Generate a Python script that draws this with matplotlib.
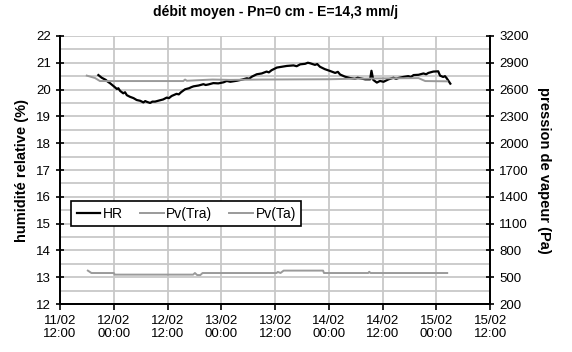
import numpy as np
import matplotlib
matplotlib.use("Agg")
import matplotlib.pyplot as plt
from matplotlib.ticker import MultipleLocator

plt.rcParams["font.family"] = ["Liberation Sans", "DejaVu Sans"]

# hours since 11/02 12:00
tick_labels = ["11/02\n12:00", "12/02\n00:00", "12/02\n12:00", "13/02\n00:00",
               "13/02\n12:00", "14/02\n00:00", "14/02\n12:00", "15/02\n00:00",
               "15/02\n12:00"]

hr_t = [8.55, 9.0, 9.3, 10.2, 10.6, 11.2, 12.0, 12.7, 13.0, 13.4, 14.1, 14.5, 14.9,
        15.6, 16.4, 16.8, 17.1, 17.9, 18.6, 19.0, 19.4, 20.1, 20.6, 21.2, 22.3,
        23.0, 23.8, 24.3, 24.9, 26.0, 26.5, 27.0, 27.9, 28.8, 29.3, 29.8, 30.9,
        32.0, 32.5, 33.1, 34.2, 35.3, 36.5, 37.2, 38.0, 39.5, 40.6, 41.7, 42.2,
        42.8, 43.9, 45.0, 46.1, 46.6, 47.2, 48.4, 49.5, 50.6, 52.1, 52.8, 53.6,
        54.7, 55.3, 55.8, 56.9, 57.4, 58.0, 59.1, 60.3, 61.4, 62.0, 62.5, 63.6,
        64.7, 65.8, 66.4, 67.0, 68.1, 69.2, 69.5, 69.9, 70.3, 70.7, 71.4, 72.2,
        73.3, 74.4, 75.0, 75.5, 76.6, 77.7, 78.3, 78.9, 80.0, 81.1, 81.7, 82.2,
        83.3, 84.4, 84.8, 85.5, 85.9, 86.3, 87.1]
hr = [20.54, 20.48, 20.44, 20.36, 20.30, 20.23, 20.12, 20.02, 20.05, 19.95, 19.86,
      19.90, 19.79, 19.73, 19.68, 19.64, 19.61, 19.58, 19.52, 19.57, 19.54, 19.50,
      19.55, 19.55, 19.60, 19.63, 19.70, 19.68, 19.76, 19.84, 19.82, 19.90, 20.01,
      20.05, 20.09, 20.12, 20.15, 20.20, 20.17, 20.19, 20.24, 20.23, 20.27, 20.32,
      20.29, 20.33, 20.37, 20.42, 20.40, 20.48, 20.57, 20.60, 20.67, 20.64, 20.72,
      20.82, 20.85, 20.88, 20.90, 20.87, 20.94, 20.96, 21.00, 20.98, 20.92, 20.95,
      20.85, 20.76, 20.69, 20.62, 20.66, 20.56, 20.48, 20.43, 20.40, 20.44, 20.42,
      20.38, 20.38, 20.70, 20.36, 20.31, 20.26, 20.32, 20.29, 20.38, 20.44, 20.40,
      20.43, 20.47, 20.50, 20.47, 20.54, 20.55, 20.60, 20.57, 20.62, 20.67, 20.68,
      20.52, 20.47, 20.50, 20.42, 20.22]

pv_tra_t = [5.96, 7.8, 8.9, 27.5, 27.9, 28.3, 31.0, 34.0, 38.0, 45.0, 60.0, 64.5,
            70.5, 75.0, 80.0, 81.5, 86.4]
pv_tra = [2756, 2729, 2695, 2695, 2712, 2698, 2705, 2712, 2708, 2712, 2715, 2720,
          2724, 2726, 2728, 2695, 2692]

pv_ta_t = [6.2, 7.0, 12.0, 12.2, 29.7, 30.1, 30.6, 31.3, 31.8, 48.3, 48.6, 49.2,
           49.9, 58.7, 58.9, 68.8, 69.0, 69.3, 86.4]
pv_ta = [575, 548, 548, 530, 530, 548, 525, 525, 548, 548, 560, 548, 575, 575, 548,
         548, 562, 548, 548]

fig = plt.figure(figsize=(5.72, 3.52), dpi=100)
ax = fig.add_axes([0.105, 0.136, 0.752, 0.762])
ax2 = ax.twinx()

ax.set_xlim(0, 96)
ax.set_ylim(12, 22)
ax2.set_ylim(200, 3200)
ax.set_xticks(np.arange(0, 97, 12))
ax.set_xticklabels(tick_labels)
ax.yaxis.set_major_locator(MultipleLocator(1))
ax.yaxis.set_minor_locator(MultipleLocator(0.5))
ax2.set_yticks(np.arange(200, 3201, 300))

ax.grid(True, which="both", axis="y", color="#c8c8c8", lw=1.3)
ax.grid(True, which="major", axis="x", color="#c8c8c8", lw=1.3)
ax.set_axisbelow(True)

l1, = ax.plot(hr_t, hr, color="black", lw=1.6, label="HR")
l2, = ax2.plot(pv_tra_t, pv_tra, color="#9a9a9a", lw=1.4, label="Pv(Tra)")
l3, = ax2.plot(pv_ta_t, pv_ta, color="#9a9a9a", lw=1.4, label="Pv(Ta)")

for a in (ax, ax2):
    a.spines["top"].set_visible(False)
    for s in ("left", "right", "bottom"):
        a.spines[s].set_linewidth(1.3)
ax.tick_params(axis="y", which="major", direction="inout", length=6, width=1.2,
               labelsize=9.5)
ax.tick_params(axis="y", which="minor", length=0)
ax.tick_params(axis="x", direction="out", length=4, width=1.2, labelsize=9.5)
ax2.tick_params(axis="y", direction="inout", length=6, width=1.2, labelsize=9.5)

ax.set_ylabel("humidité relative (%)", fontsize=10.5, fontweight="bold", labelpad=5)
ax2.set_ylabel("pression de vapeur (Pa)", fontsize=10.5, fontweight="bold",
               rotation=-90, labelpad=16)
ax.set_title("débit moyen - Pn=0 cm - E=14,3 mm/j", fontsize=10, fontweight="bold",
             pad=14)

leg = ax2.legend(handles=[l1, l2, l3], loc="lower left", bbox_to_anchor=(0.01, 0.265),
                 ncol=3, fontsize=10, frameon=True, fancybox=False, framealpha=1,
                 edgecolor="black", handlelength=1.7, handletextpad=0.2,
                 columnspacing=1.2, borderpad=0.4)
leg.get_frame().set_linewidth(1.2)

fig.savefig("out.png", dpi=100)
